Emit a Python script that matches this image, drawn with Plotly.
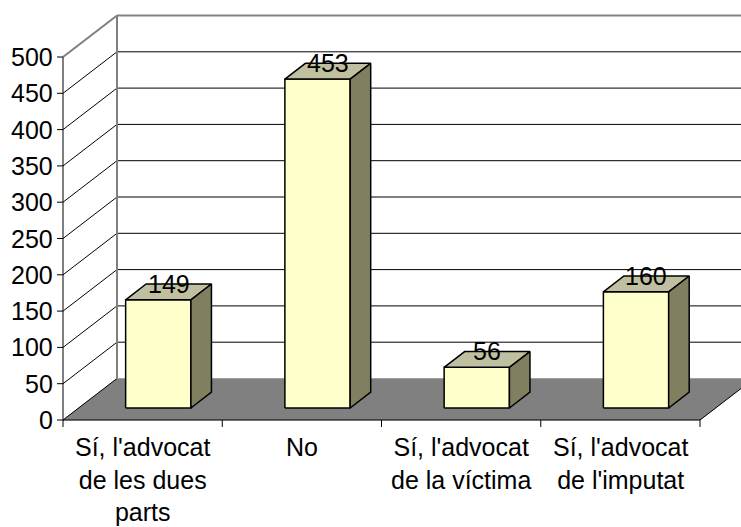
import plotly.graph_objects as go

categories = ["Sí, l'advocat<br>de les dues<br>parts", "No",
              "Sí, l'advocat<br>de la víctima", "Sí, l'advocat<br>de l'imputat"]
values = [149, 453, 56, 160]
y_ticks = [0, 50, 100, 150, 200, 250, 300, 350, 400, 450, 500]

W, H = 741, 527
X0PX, CATPX = 63, 159.25      # px of category origin, px per category
Y0PX, UNITPX = 420, 0.726     # px of value 0, px per value unit
DX = 54 / CATPX               # depth offset in category units
DY = 41.5 / UNITPX            # depth offset in value units
F1, F2 = 0.29, 0.67           # bar depth fractions
BW = 0.41                     # bar width (category units)
YMAX = 500
n = len(categories)
FONT = dict(family="Arial, Liberation Sans, sans-serif", size=25, color="black")

fig = go.Figure()


def poly(xs, ys, fill, lc="black", lw=1.5):
    fig.add_trace(go.Scatter(x=xs + [xs[0]], y=ys + [ys[0]], mode="lines", fill="toself",
                             fillcolor=fill, line=dict(color=lc, width=lw),
                             hoverinfo="skip", showlegend=False))


def segs(pairs, color, lw):
    xs, ys = [], []
    for (xa, ya, xb, yb) in pairs:
        xs += [xa, xb, None]
        ys += [ya, yb, None]
    fig.add_trace(go.Scatter(x=xs, y=ys, mode="lines", line=dict(color=color, width=lw),
                             hoverinfo="skip", showlegend=False))


# floor
poly([0, n, n + DX, DX], [0, 0, DY, DY], "#808080", "#808080", 0.5)
# back wall gridlines
segs([(DX, v + DY, n + DX, v + DY) for v in y_ticks if 0 < v < YMAX], "black", 1)
# side wall diagonals
segs([(0, v, DX, v + DY) for v in y_ticks if v < YMAX], "black", 1)
# gray borders of walls
segs([(0, YMAX, DX, YMAX + DY), (DX, YMAX + DY, n + DX, YMAX + DY), (DX, DY, DX, YMAX + DY)],
     "#808080", 2)
# y axis line and ticks
tick_x = 6 / CATPX
segs([(0, 0, 0, YMAX)] + [(0, v, -tick_x, v) for v in y_ticks], "black", 1)
# floor front and right edges, category ticks
tick_y = 7 / UNITPX
segs([(0, 0, n, 0), (n, 0, n + DX, DY)] + [(i, 0, i, -tick_y) for i in range(n + 1)], "black", 1)

# bars
ddx, ddy = (F2 - F1) * DX, (F2 - F1) * DY
annotations = []
for i, v in enumerate(values):
    c = i + 0.5
    xl = c - BW / 2 + F1 * DX
    xr = c + BW / 2 + F1 * DX
    yb = F1 * DY
    yt = v + F1 * DY
    poly([xl, xr, xr, xl], [yb, yb, yt, yt], "#FFFFCC")
    poly([xl, xr, xr + ddx, xl + ddx], [yt, yt, yt + ddy, yt + ddy], "#C0C0A0")
    poly([xr, xr + ddx, xr + ddx, xr], [yb, yb + ddy, yt + ddy, yt], "#808060")
    annotations.append(dict(x=c + (F1 + F2) / 2 * DX, y=v + (F1 + F2) / 2 * DY, text=str(v),
                            showarrow=False, xanchor="center", yanchor="middle", yshift=8, font=FONT))

for i, cat in enumerate(categories):
    annotations.append(dict(x=i + 0.5, y=0, text=cat, showarrow=False, xanchor="center",
                            yanchor="top", yshift=-11, font=FONT))
for v in y_ticks:
    annotations.append(dict(x=0, y=v, text=str(v), showarrow=False, xanchor="right",
                            yanchor="middle", xshift=-8, font=FONT))

fig.update_layout(
    width=W, height=H, autosize=False,
    margin=dict(l=0, r=0, t=0, b=0),
    paper_bgcolor="white", plot_bgcolor="white",
    xaxis=dict(visible=False, range=[-X0PX / CATPX, (W - X0PX) / CATPX], fixedrange=True),
    yaxis=dict(visible=False, range=[-(H - Y0PX) / UNITPX, Y0PX / UNITPX], fixedrange=True),
    annotations=annotations,
    showlegend=False,
)
fig.write_html("out.html", config={"displayModeBar": False},
               post_script="document.body.style.margin='0';document.body.style.overflow='hidden';")
